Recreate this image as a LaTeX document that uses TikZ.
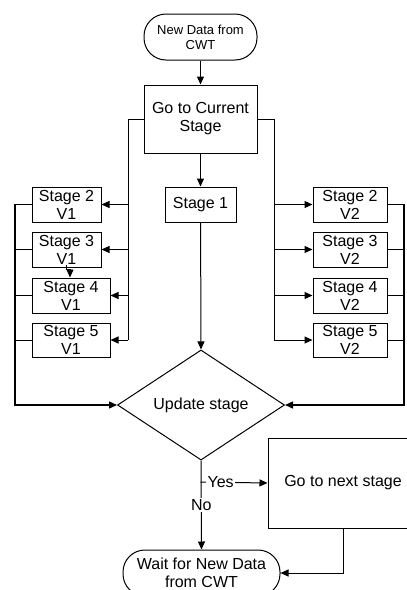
\documentclass[tikz,border=0pt]{standalone}
\usepackage{fontspec}
\setmainfont{Liberation Sans}
\usetikzlibrary{arrows.meta,shapes.geometric}
\begin{document}
\begin{tikzpicture}[x=1pt,y=-1pt,
  line width=1pt,
  every node/.style={font=\fontsize{16}{18}\selectfont, align=center, inner sep=0pt},
  box/.style={draw, rectangle},
  term/.style={draw, rectangle, rounded corners=22pt},
  arr/.style={-{Triangle[length=8pt,width=7pt]}},
  lbl/.style={fill=white, inner xsep=1.5pt, inner ysep=1pt}]
\useasboundingbox (0,0) rectangle (407,590);
\clip (0,0) rectangle (407,590);
% nodes
\node[term, minimum width=113pt, minimum height=46pt, font=\fontsize{13}{15}\selectfont] (start) at (200.5,37) {New Data from\\CWT};
\node[box, minimum width=113pt, minimum height=68pt] (cur) at (200.5,119) {Go to Current\\Stage};
\node[box, minimum width=71pt, minimum height=35pt] (s1) at (200.5,204.5) {Stage 1};
\node[box, minimum width=69pt, minimum height=35pt] (l2) at (66.5,204.5) {Stage 2\\V1};
\node[box, minimum width=69pt, minimum height=35pt] (l3) at (66.5,249.5) {Stage 3\\V1};
\node[box, minimum width=78pt, minimum height=35pt] (l4) at (71,295.5) {Stage 4\\V1};
\node[box, minimum width=78pt, minimum height=34pt] (l5) at (71,340) {Stage 5\\V1};
\node[box, minimum width=74pt, minimum height=35pt] (r2) at (350,204.5) {Stage 2\\V2};
\node[box, minimum width=74pt, minimum height=35pt] (r3) at (350,249.5) {Stage 3\\V2};
\node[box, minimum width=74pt, minimum height=35pt] (r4) at (350,295.5) {Stage 4\\V2};
\node[box, minimum width=74pt, minimum height=34pt] (r5) at (350,340) {Stage 5\\V2};
\node[draw, diamond, minimum width=167pt, minimum height=101pt] (dia) at (201,405) {Update stage};
\node[box, minimum width=150pt, minimum height=90pt] (next) at (343,483) {Go to next stage};
\node[term, minimum width=157pt, minimum height=46pt] (wait) at (201.5,573) {Wait for New Data\\from CWT};
% coordinates
\coordinate (lbt) at (128,119);
\coordinate (lbb) at (128,340);
\coordinate (rbt) at (274,119);
\coordinate (rbb) at (274,340);
\coordinate (lrt) at (15,204.5);
\coordinate (rrt) at (404,204.5);
\coordinate (yes) at (200.5,482);
\coordinate (k1) at (66.5,265);
\coordinate (k2) at (70,269);
% connectors
\draw[arr] (start) -- (cur);
\draw[arr] (cur) -- (s1);
\draw[arr] (s1) -- (dia.north);
\draw (cur.west) -- (lbt) -- (lbb);
\foreach \n in {l2,l3,l4,l5} \draw[arr] (lbt |- \n.east) -- (\n.east);
\draw (cur.east) -- (rbt) -- (rbb);
\foreach \n in {r2,r3,r4,r5} \draw[arr] (rbt |- \n.west) -- (\n.west);
\draw[arr, line width=1.4pt] (l2.west) -- (lrt) -- (lrt |- dia.west) -- (dia.west);
\foreach \n in {l3,l4,l5} \draw (\n.west) -- (lrt |- \n.west);
\draw[arr, line width=1.4pt] (r2.east) -- (rrt) -- (rrt |- dia.east) -- (dia.east);
\foreach \n in {r3,r4,r5} \draw (\n.east) -- (rrt |- \n.east);
\draw[arr, line width=0.8pt] (k1) |- (k2) -- (k2 |- l4.north);
\draw[arr] (dia.south) -- (wait.north) node[lbl, midway] {No};
\draw[arr] (yes) -- (next.west) node[lbl, pos=0.3] {Yes};
\draw[arr] (next.south) -- (next.south |- wait.east) -- (wait.east);
\end{tikzpicture}
\end{document}
